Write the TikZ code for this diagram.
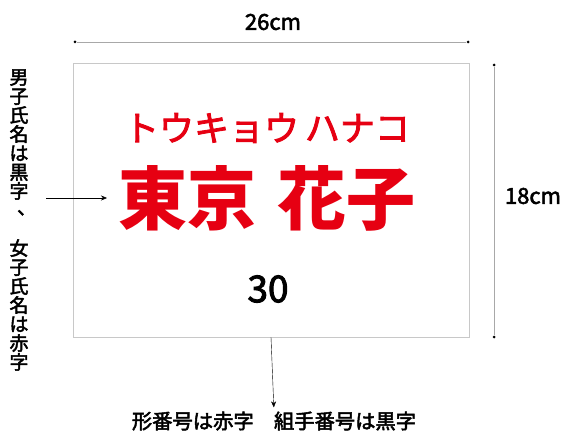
\documentclass[tikz,border=0pt]{standalone}
\usepackage{fontspec}
\setmainfont{Noto Sans CJK JP}
\newfontfamily\medfont[FakeBold=2.5]{Noto Sans CJK JP}
\usetikzlibrary{arrows.meta,positioning}
\definecolor{namered}{HTML}{E60012}
\definecolor{cardline}{HTML}{C8C8C8}
\definecolor{dimline}{HTML}{A8A8A8}

\begin{document}
\begin{tikzpicture}[x=1pt, y=-1pt, >={Stealth[length=6pt,width=5pt]},
  dimdot/.style={circle, fill=black, inner sep=0pt, minimum size=3pt},
  dimtxt/.style={font=\medfont\fontsize{22}{22}\selectfont, inner sep=0pt},
  note/.style={font=\medfont\fontsize{19}{19}\selectfont, inner sep=0pt}]
  \useasboundingbox (0,0) rectangle (566,436);
  % the card itself
  \node[draw=cardline, minimum width=396pt, minimum height=274pt, inner sep=0pt] (card) at (271,200) {};
  \node[font=\medfont\fontsize{35}{35}\selectfont, text=namered, inner sep=0pt] (kana) at (267,128) {トウキョウ\,ハナコ};
  \node[font=\fontsize{69}{69}\selectfont\bfseries, text=namered, inner sep=0pt] (name) at (267,198) {東京\hspace{0.3em}花子};
  \node[font=\medfont\fontsize{37}{37}\selectfont, inner sep=0pt] (num) at (268,289) {30};
  % dimensions
  \node[dimdot] (wl) at (75,42) {};
  \node[dimdot] (wr) at (468,42) {};
  \draw[dimline] (wl) -- (wr);
  \node[dimtxt] (wtxt) at (273,22) {26cm};
  \node[dimdot] (ht) at (494,65) {};
  \node[dimdot] (hb) at (494,337) {};
  \draw[dimline] (ht) -- (hb);
  \node[dimtxt] (htxt) at (533,196) {18cm};
  % notes
  \node[note, align=center] (vnote) at (19,220)
    {男\\子\\氏\\名\\は\\黒\\字\\\makebox[1em][l]{\hspace{0.4em}\raisebox{0.15em}{、}}\\　\\女\\子\\氏\\名\\は\\赤\\字};
  \coordinate (la) at (46,198);
  \coordinate (lb) at (107,198);
  \draw[->] (la) -- (lb);
  \node[note, font=\medfont\fontsize{20.3}{20.3}\selectfont] (bnote) at (274,421) {形番号は赤字　組手番号は黒字};
  \draw[->, shorten >=4pt] (card.south) -- (bnote.north);
\end{tikzpicture}
\end{document}
